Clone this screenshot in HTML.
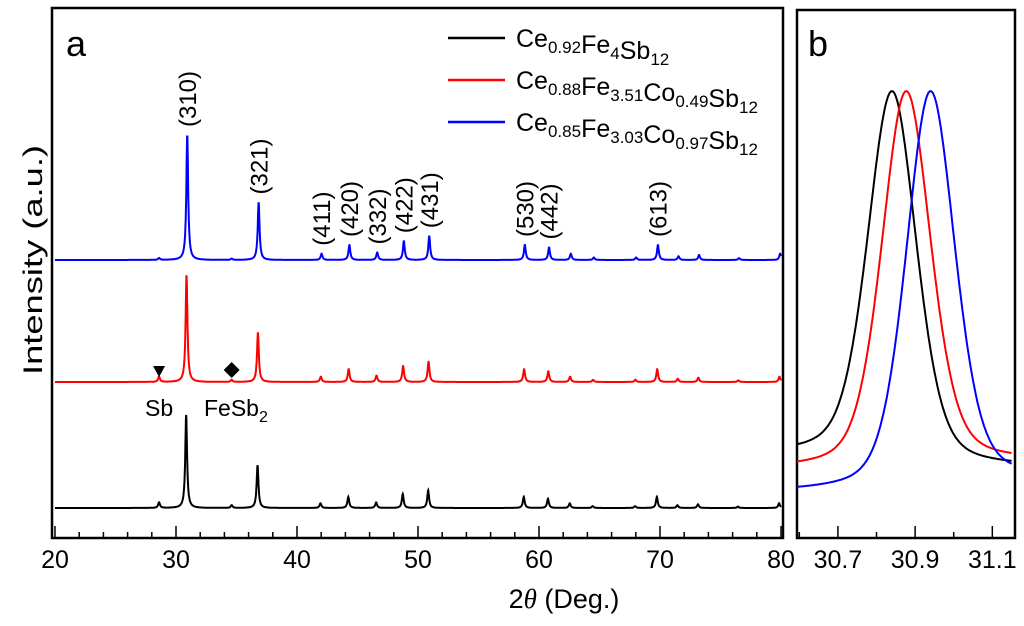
<!DOCTYPE html>
<html><head><meta charset="utf-8"><style>
body{margin:0;background:#fff}
text{font-family:"Liberation Sans",Arial,sans-serif}
</style></head><body>
<svg id="c" width="1024" height="621" xmlns="http://www.w3.org/2000/svg"></svg>
<script>
const peakPos=[30.9,36.8,42.0,44.3,46.6,48.8,50.9,58.8,60.8,62.6,64.5,68.0,69.8,71.5,73.2,76.5,79.9];
const peakInt=[1,0.46,0.05,0.12,0.06,0.15,0.19,0.12,0.1,0.05,0.02,0.02,0.12,0.03,0.04,0.015,0.05];
const impPos=[28.6,34.6];
const seriesNames=["black","red","blue"];
const seriesImp=[[0.06,0.03],[0.05,0.02],[0.015,0.01]];
const seriesShift=[-0.06,-0.03,0.03];
const seriesBase=[508,382,260];
const seriesScale=[93,107,125];
const hkl=["(310)","(321)","(411)","(420)","(332)","(422)","(431)","(530)","(442)","(613)"];
const hklPos=[30.9,36.8,42.0,44.3,46.6,48.8,50.9,58.8,60.8,69.8];
const xTicks=[20,30,40,50,60,70,80];
const bTicks=[30.7,30.9,31.1];
const bPeak=[30.84,30.877,30.94];
const bLeft=[455,470,493];
const bRight=[468,462,480];
const colors=["#000","#f00","#00f"];
const legend=[["Ce","0.92","Fe","4","Sb","12"],["Ce","0.88","Fe","3.51","Co","0.49","Sb","12"],["Ce","0.85","Fe","3.03","Co","0.97","Sb","12"]];

const svg=document.getElementById('c');const NS="http://www.w3.org/2000/svg";
function mk(t,a,p){const e=document.createElementNS(NS,t);for(const k in a)e.setAttribute(k,a[k]);(p||svg).appendChild(e);return e;}
const X0=55,X1=781,Y0=8,Y1=538;
const xa=v=>X0+(v-20)/60*(X1-X0);
const B0=797,B1=1012;
const xb=v=>B0+(v-30.594)/(31.151-30.594)*(B1-B0);

let f=mk('rect',{x:X0-3,y:Y0,width:X1-X0+5,height:Y1-Y0,fill:'none',stroke:'#000','stroke-width':2.5});


f=mk('rect',{x:B0,y:Y0+2,width:B1-B0+3,height:Y1-Y0-2,fill:'none',stroke:'#000','stroke-width':2.5});



for(let v=20;v<=80;v+=2){const big=v%10==0;mk('line',{x1:xa(v),x2:xa(v),y1:Y1,y2:Y1-(big?12:6),stroke:'#000','stroke-width':1.5});}
xTicks.forEach(v=>{const t=mk('text',{x:xa(v),y:568,'font-size':25,'text-anchor':'middle'});t.textContent=v;

});
let t=mk('text',{x:564,y:608,'font-size':27,'text-anchor':'middle'});
t.innerHTML='2<tspan font-style="italic" font-family="Liberation Serif">θ</tspan> (Deg.)';


t=mk('text',{x:0,y:0,'font-size':27,'text-anchor':'middle',textLength:230,lengthAdjust:'spacingAndGlyphs',transform:'translate(42,260) rotate(-90)'});t.textContent='Intensity (a.u.)';


t=mk('text',{x:66,y:56,'font-size':36});t.textContent='a';


t=mk('text',{x:808,y:56,'font-size':36});t.textContent='b';



const w=0.09;
seriesNames.forEach((n,s)=>{let d='';
 for(let v=20;v<=80.0001;v+=0.02){let y=0;
  peakPos.forEach((p,i)=>{const dx=(v-p-seriesShift[s])/w;y+=peakInt[i]/(1+dx*dx);});
  impPos.forEach((p,i)=>{const dx=(v-p)/w;y+=seriesImp[s][i]/(1+dx*dx);});
  d+=(d?'L':'M')+xa(v).toFixed(1)+','+(seriesBase[s]-y*seriesScale[s]).toFixed(1);}
 const p=mk('path',{d:d,fill:'none',stroke:colors[s],'stroke-width':2});
 
 
});
hkl.forEach((h,i)=>{const x=xa(hklPos[i])+9;
 const y=seriesBase[2]-peakInt[peakPos.indexOf(hklPos[i])]*seriesScale[2]-8;
 const t=mk('text',{'font-size':24,'text-anchor':'start',transform:`translate(${x},${y}) rotate(-90)`});
 t.textContent=h;
 
 });
let m=mk('polygon',{points:`${xa(28.6)-6},366 ${xa(28.6)+6},366 ${xa(28.6)},377`,fill:'#000'});


m=mk('polygon',{points:`${xa(34.6)},362 ${xa(34.6)+8},370 ${xa(34.6)},378 ${xa(34.6)-8},370`,fill:'#000'});


t=mk('text',{x:145,y:416,'font-size':23});t.textContent='Sb';


t=mk('text',{x:204,y:416,'font-size':23});t.innerHTML='FeSb<tspan font-size="16" dy="6">2</tspan>';



legend.forEach((L,i)=>{const y=38+i*42;
 let l=mk('line',{x1:448,x2:505,y1:y,y2:y,stroke:colors[i],'stroke-width':2.5});
 
 
 const t=mk('text',{x:516,y:y+9,'font-size':25});let h='';
 for(let k=0;k<L.length;k+=2)h+=`<tspan>${L[k]}</tspan><tspan font-size="17" dy="6">${L[k+1]}</tspan><tspan dy="-6"></tspan>`;
 t.innerHTML=h;
 
 });

for(let k=6;k<=11;k++){const vv=30+k/10;const big=k%2==1;mk('line',{x1:xb(vv),x2:xb(vv),y1:Y1,y2:Y1-(big?12:6),stroke:'#000','stroke-width':1.5});}
bTicks.forEach(v=>{const t=mk('text',{x:xb(v),y:568,'font-size':25,'text-anchor':'middle'});t.textContent=v.toFixed(1);

});
const bTop=91;
seriesNames.forEach((n,s)=>{let d='';
 for(let v=30.594;v<=31.151;v+=0.004){const a=(v-bPeak[s])/0.075,b=(v-bPeak[s])/0.11;
  const g=0.65*Math.exp(-a*a*0.693)+0.35/(1+b*b*2.2);
  const base=v<bPeak[s]?bLeft[s]:bRight[s];const y=base-(base-bTop)*g;
  d+=(d?'L':'M')+xb(v).toFixed(1)+','+y.toFixed(1);}
 const p=mk('path',{d:d,fill:'none',stroke:colors[s],'stroke-width':2});
 
 
});
</script>
</body></html>
